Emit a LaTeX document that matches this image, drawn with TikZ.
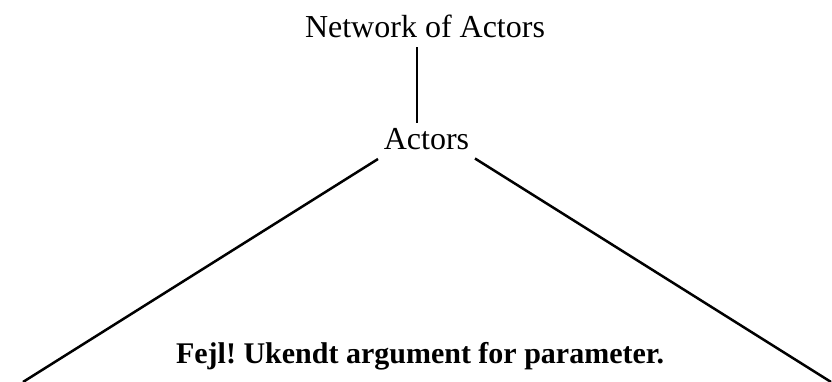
\documentclass[tikz,border=0pt]{standalone}
\usepackage{fontspec}
\setmainfont{Liberation Serif}
\frenchspacing
\begin{document}
\begin{tikzpicture}[x=1pt,y=-1pt,line width=2.5pt,
  lbl/.style={inner sep=0pt,anchor=base,font=\fontsize{32}{38}\selectfont},
  warn/.style={inner sep=0pt,anchor=base,font=\fontsize{30}{36}\selectfont\bfseries}]
\useasboundingbox (0,0) rectangle (832,382);
% labels
\node[lbl] (net) at (425,38) {Network of Actors};
\node[lbl] (act) at (426.5,150) {Actors};
\node[warn] (err) at (420,363) {Fejl! Ukendt argument for parameter.};
% connector end points
\coordinate (vtop) at (417,47.5);
\coordinate (vbot) at (417,123.5);
\coordinate (lstart) at (378,159);
\coordinate (lend) at (23,382);
\coordinate (rstart) at (475,158.5);
\coordinate (rend) at (831,382);
% connectors
\draw (vtop) -- (vbot);
\draw (lstart) -- (lend);
\draw (rstart) -- (rend);
\end{tikzpicture}
\end{document}
